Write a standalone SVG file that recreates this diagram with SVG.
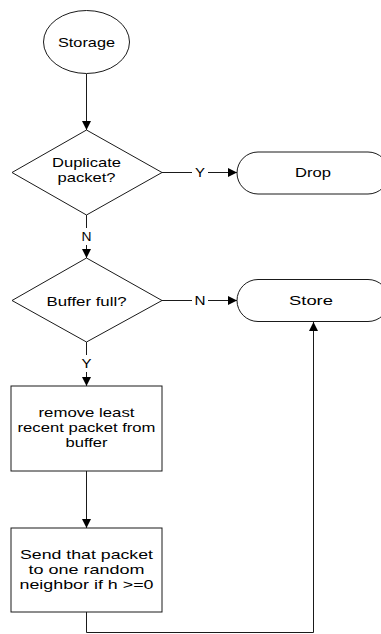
<svg xmlns="http://www.w3.org/2000/svg" width="381" height="634" viewBox="0 0 381 634">
<style>
.s{fill:#fff;stroke:#1a1a1a;stroke-width:1}
.c{fill:none;stroke:#1a1a1a;stroke-width:1}
text{font-family:"Liberation Sans",Arial,sans-serif;font-size:12.8px;fill:#000;text-anchor:middle}
</style>
<defs>
<marker id="ah" viewBox="0 0 10 10" refX="10" refY="5" markerWidth="9" markerHeight="9" markerUnits="userSpaceOnUse" orient="auto">
<path d="M0,0 L10,5 L0,10 Z" fill="#000"/>
</marker>
</defs>
<rect width="381" height="634" fill="#fff"/>
<g id="connectors">
<path class="c" d="M86.5,74 V130" marker-end="url(#ah)"/>
<path class="c" d="M162,172.5 H192"/>
<path class="c" d="M208,172.5 H237" marker-end="url(#ah)"/>
<text x="200" y="177" textLength="10" lengthAdjust="spacingAndGlyphs">Y</text>
<path class="c" d="M86.5,215 V228"/>
<path class="c" d="M86.5,245 V258" marker-end="url(#ah)"/>
<text x="86.5" y="241" textLength="10" lengthAdjust="spacingAndGlyphs">N</text>
<path class="c" d="M162,300.5 H192"/>
<path class="c" d="M208,300.5 H237" marker-end="url(#ah)"/>
<text x="200" y="305" textLength="11" lengthAdjust="spacingAndGlyphs">N</text>
<path class="c" d="M86.5,342 V355"/>
<path class="c" d="M86.5,372 V386" marker-end="url(#ah)"/>
<text x="86.5" y="368" textLength="10" lengthAdjust="spacingAndGlyphs">Y</text>
<path class="c" d="M86.5,471 V528" marker-end="url(#ah)"/>
<path class="c" d="M86.5,612 V632.5 H313.5 V322" marker-end="url(#ah)"/>
</g>
<g id="storage">
<ellipse class="s" cx="86.5" cy="42" rx="43" ry="31.5"/>
<text x="86.5" y="46.5" textLength="57" lengthAdjust="spacingAndGlyphs">Storage</text>
</g>
<g id="duplicate">
<polygon class="s" points="86.5,130 162,172.5 86.5,215 12,172.5"/>
<text x="86.5" y="167" textLength="69" lengthAdjust="spacingAndGlyphs">Duplicate</text>
<text x="86.5" y="182" textLength="58" lengthAdjust="spacingAndGlyphs">packet?</text>
</g>
<g id="drop">
<rect class="s" x="237" y="152" width="152" height="42" rx="21" ry="21"/>
<text x="313" y="177" textLength="36" lengthAdjust="spacingAndGlyphs">Drop</text>
</g>
<g id="buffer">
<polygon class="s" points="86.5,258 162,300.5 86.5,342 12,300.5"/>
<text x="86.5" y="305.5" textLength="80" lengthAdjust="spacingAndGlyphs">Buffer full?</text>
</g>
<g id="store">
<rect class="s" x="237" y="279.5" width="152" height="42" rx="21" ry="21"/>
<text x="311" y="305" textLength="44" lengthAdjust="spacingAndGlyphs">Store</text>
</g>
<g id="remove">
<rect class="s" x="11" y="386" width="151" height="85"/>
<text x="86.5" y="417" textLength="96" lengthAdjust="spacingAndGlyphs">remove least</text>
<text x="86.5" y="432" textLength="138" lengthAdjust="spacingAndGlyphs">recent packet from</text>
<text x="86.5" y="447" textLength="42" lengthAdjust="spacingAndGlyphs">buffer</text>
</g>
<g id="send">
<rect class="s" x="11" y="528" width="151" height="84"/>
<text x="86.5" y="558.5" textLength="133" lengthAdjust="spacingAndGlyphs">Send that packet</text>
<text x="86.5" y="573.5" textLength="116" lengthAdjust="spacingAndGlyphs">to one random</text>
<text x="86.5" y="588.5" textLength="134" lengthAdjust="spacingAndGlyphs">neighbor if h &gt;=0</text>
</g>
</svg>
